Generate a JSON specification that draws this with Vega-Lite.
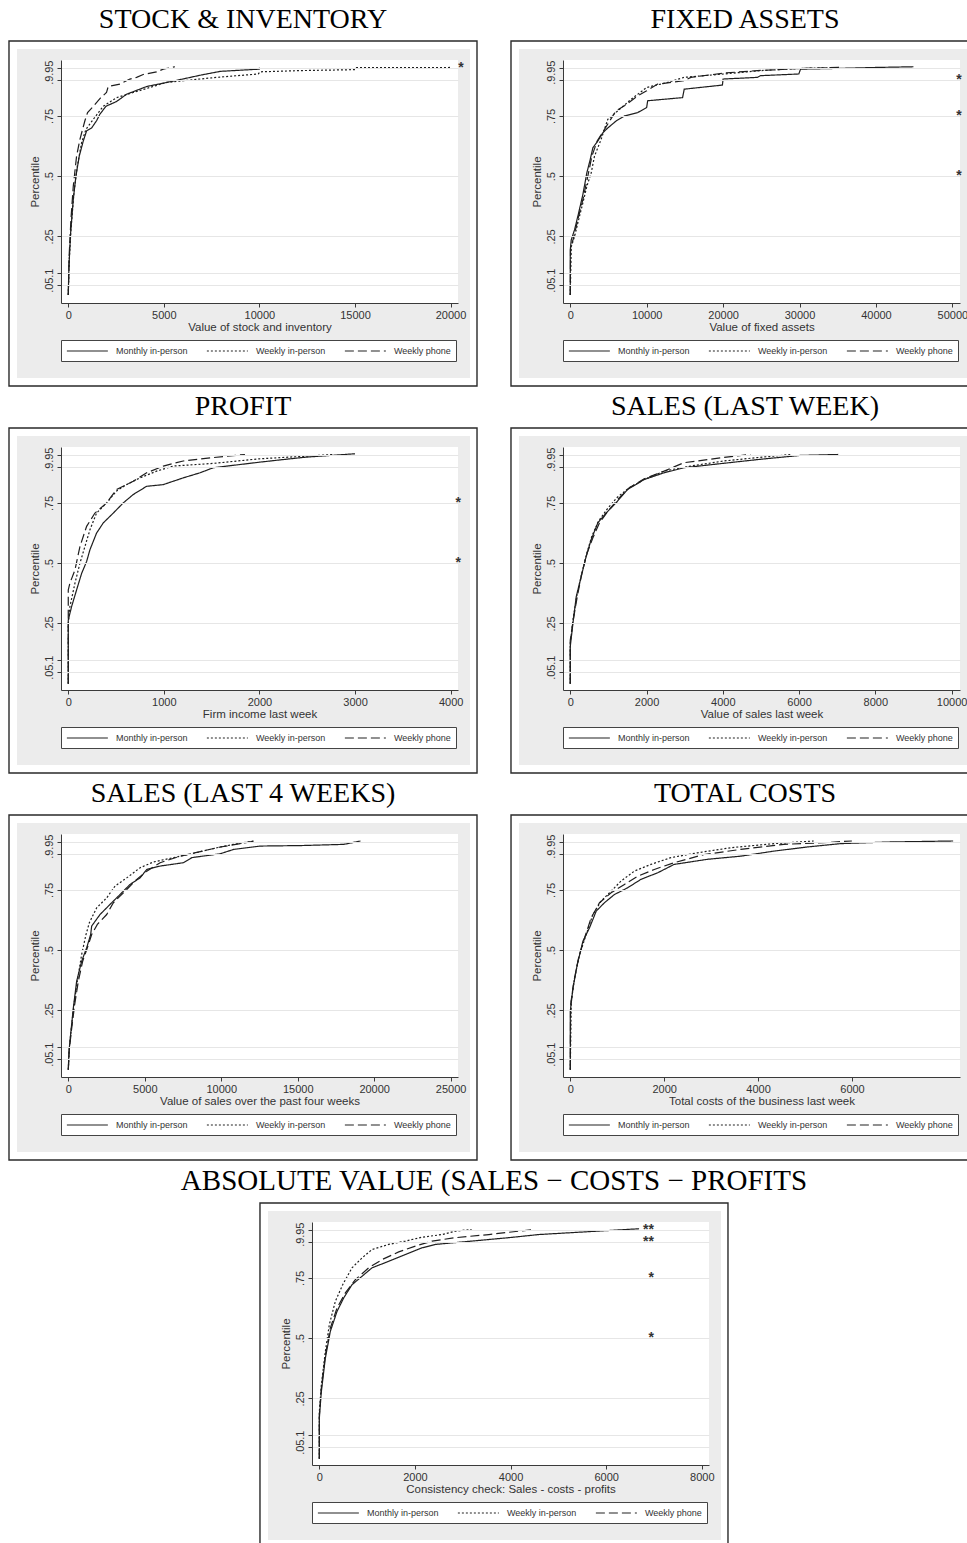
{
  "$schema": "https://vega.github.io/schema/vega-lite/v6.json",
  "background": "white",
  "padding": {"left": 8, "top": 6, "right": 0, "bottom": 0},
  "datasets": {
    "stock": [
      {"survey": "Monthly in-person", "value": 0, "pct": 0.007},
      {"survey": "Monthly in-person", "value": 35, "pct": 0.125},
      {"survey": "Monthly in-person", "value": 122, "pct": 0.264},
      {"survey": "Monthly in-person", "value": 262, "pct": 0.403},
      {"survey": "Monthly in-person", "value": 400, "pct": 0.5},
      {"survey": "Monthly in-person", "value": 575, "pct": 0.583},
      {"survey": "Monthly in-person", "value": 785, "pct": 0.646},
      {"survey": "Monthly in-person", "value": 960, "pct": 0.688},
      {"survey": "Monthly in-person", "value": 1220, "pct": 0.7},
      {"survey": "Monthly in-person", "value": 1480, "pct": 0.73},
      {"survey": "Monthly in-person", "value": 1655, "pct": 0.757},
      {"survey": "Monthly in-person", "value": 1970, "pct": 0.79},
      {"survey": "Monthly in-person", "value": 2530, "pct": 0.81},
      {"survey": "Monthly in-person", "value": 3050, "pct": 0.84},
      {"survey": "Monthly in-person", "value": 4100, "pct": 0.872},
      {"survey": "Monthly in-person", "value": 4970, "pct": 0.886},
      {"survey": "Monthly in-person", "value": 5980, "pct": 0.903},
      {"survey": "Monthly in-person", "value": 6975, "pct": 0.92},
      {"survey": "Monthly in-person", "value": 7970, "pct": 0.935},
      {"survey": "Monthly in-person", "value": 9990, "pct": 0.944},
      {"survey": "Monthly in-person", "value": 10000, "pct": 0.95},
      {"survey": "Weekly in-person", "value": 0, "pct": 0.007},
      {"survey": "Weekly in-person", "value": 52, "pct": 0.153},
      {"survey": "Weekly in-person", "value": 140, "pct": 0.278},
      {"survey": "Weekly in-person", "value": 296, "pct": 0.43},
      {"survey": "Weekly in-person", "value": 470, "pct": 0.54},
      {"survey": "Weekly in-person", "value": 700, "pct": 0.64},
      {"survey": "Weekly in-person", "value": 925, "pct": 0.694},
      {"survey": "Weekly in-person", "value": 1310, "pct": 0.736},
      {"survey": "Weekly in-person", "value": 1830, "pct": 0.79},
      {"survey": "Weekly in-person", "value": 2530, "pct": 0.826},
      {"survey": "Weekly in-person", "value": 3400, "pct": 0.847},
      {"survey": "Weekly in-person", "value": 4270, "pct": 0.868},
      {"survey": "Weekly in-person", "value": 5140, "pct": 0.889},
      {"survey": "Weekly in-person", "value": 6020, "pct": 0.896},
      {"survey": "Weekly in-person", "value": 7760, "pct": 0.91},
      {"survey": "Weekly in-person", "value": 9940, "pct": 0.924},
      {"survey": "Weekly in-person", "value": 10030, "pct": 0.933},
      {"survey": "Weekly in-person", "value": 12120, "pct": 0.938},
      {"survey": "Weekly in-person", "value": 15000, "pct": 0.942},
      {"survey": "Weekly in-person", "value": 15080, "pct": 0.95},
      {"survey": "Weekly in-person", "value": 20000, "pct": 0.951},
      {"survey": "Weekly phone", "value": 0, "pct": 0.007},
      {"survey": "Weekly phone", "value": 52, "pct": 0.18},
      {"survey": "Weekly phone", "value": 140, "pct": 0.32},
      {"survey": "Weekly phone", "value": 262, "pct": 0.458},
      {"survey": "Weekly phone", "value": 435, "pct": 0.583},
      {"survey": "Weekly phone", "value": 610, "pct": 0.653},
      {"survey": "Weekly phone", "value": 870, "pct": 0.73},
      {"survey": "Weekly phone", "value": 1010, "pct": 0.764},
      {"survey": "Weekly phone", "value": 1310, "pct": 0.79},
      {"survey": "Weekly phone", "value": 1655, "pct": 0.822},
      {"survey": "Weekly phone", "value": 2000, "pct": 0.847},
      {"survey": "Weekly phone", "value": 2090, "pct": 0.872},
      {"survey": "Weekly phone", "value": 2700, "pct": 0.882},
      {"survey": "Weekly phone", "value": 3225, "pct": 0.903},
      {"survey": "Weekly phone", "value": 3575, "pct": 0.91},
      {"survey": "Weekly phone", "value": 3920, "pct": 0.922},
      {"survey": "Weekly phone", "value": 4620, "pct": 0.933},
      {"survey": "Weekly phone", "value": 4970, "pct": 0.944},
      {"survey": "Weekly phone", "value": 5580, "pct": 0.954}
    ],
    "assets": [
      {"survey": "Monthly in-person", "value": 0, "pct": 0.007},
      {"survey": "Monthly in-person", "value": 0, "pct": 0.194},
      {"survey": "Monthly in-person", "value": 130, "pct": 0.236},
      {"survey": "Monthly in-person", "value": 565, "pct": 0.278},
      {"survey": "Monthly in-person", "value": 1090, "pct": 0.347},
      {"survey": "Monthly in-person", "value": 1650, "pct": 0.424},
      {"survey": "Monthly in-person", "value": 2170, "pct": 0.514},
      {"survey": "Monthly in-person", "value": 2610, "pct": 0.569},
      {"survey": "Monthly in-person", "value": 2960, "pct": 0.618},
      {"survey": "Monthly in-person", "value": 3610, "pct": 0.646},
      {"survey": "Monthly in-person", "value": 4260, "pct": 0.68},
      {"survey": "Monthly in-person", "value": 4910, "pct": 0.7},
      {"survey": "Monthly in-person", "value": 6000, "pct": 0.729},
      {"survey": "Monthly in-person", "value": 7090, "pct": 0.75},
      {"survey": "Monthly in-person", "value": 8830, "pct": 0.764},
      {"survey": "Monthly in-person", "value": 10000, "pct": 0.785},
      {"survey": "Monthly in-person", "value": 10130, "pct": 0.813},
      {"survey": "Monthly in-person", "value": 14700, "pct": 0.826},
      {"survey": "Monthly in-person", "value": 14910, "pct": 0.861},
      {"survey": "Monthly in-person", "value": 19910, "pct": 0.878},
      {"survey": "Monthly in-person", "value": 20000, "pct": 0.903},
      {"survey": "Monthly in-person", "value": 24480, "pct": 0.91},
      {"survey": "Monthly in-person", "value": 24910, "pct": 0.917},
      {"survey": "Monthly in-person", "value": 29910, "pct": 0.924},
      {"survey": "Monthly in-person", "value": 30130, "pct": 0.944},
      {"survey": "Monthly in-person", "value": 34910, "pct": 0.947},
      {"survey": "Monthly in-person", "value": 39910, "pct": 0.951},
      {"survey": "Monthly in-person", "value": 44910, "pct": 0.954},
      {"survey": "Weekly in-person", "value": 0, "pct": 0.007},
      {"survey": "Weekly in-person", "value": 130, "pct": 0.208},
      {"survey": "Weekly in-person", "value": 565, "pct": 0.25},
      {"survey": "Weekly in-person", "value": 1090, "pct": 0.319},
      {"survey": "Weekly in-person", "value": 1650, "pct": 0.389},
      {"survey": "Weekly in-person", "value": 2170, "pct": 0.458},
      {"survey": "Weekly in-person", "value": 2740, "pct": 0.514},
      {"survey": "Weekly in-person", "value": 3170, "pct": 0.583},
      {"survey": "Weekly in-person", "value": 4040, "pct": 0.653},
      {"survey": "Weekly in-person", "value": 4910, "pct": 0.736},
      {"survey": "Weekly in-person", "value": 6220, "pct": 0.771},
      {"survey": "Weekly in-person", "value": 7960, "pct": 0.819},
      {"survey": "Weekly in-person", "value": 10000, "pct": 0.868},
      {"survey": "Weekly in-person", "value": 12740, "pct": 0.889},
      {"survey": "Weekly in-person", "value": 14910, "pct": 0.91},
      {"survey": "Weekly in-person", "value": 20130, "pct": 0.924},
      {"survey": "Weekly in-person", "value": 24910, "pct": 0.938},
      {"survey": "Weekly in-person", "value": 30130, "pct": 0.947},
      {"survey": "Weekly in-person", "value": 35130, "pct": 0.951},
      {"survey": "Weekly phone", "value": 0, "pct": 0.007},
      {"survey": "Weekly phone", "value": 40, "pct": 0.201},
      {"survey": "Weekly phone", "value": 480, "pct": 0.25},
      {"survey": "Weekly phone", "value": 1090, "pct": 0.333},
      {"survey": "Weekly phone", "value": 1650, "pct": 0.403},
      {"survey": "Weekly phone", "value": 2300, "pct": 0.5},
      {"survey": "Weekly phone", "value": 2830, "pct": 0.583},
      {"survey": "Weekly phone", "value": 3520, "pct": 0.646},
      {"survey": "Weekly phone", "value": 4480, "pct": 0.694},
      {"survey": "Weekly phone", "value": 5570, "pct": 0.75},
      {"survey": "Weekly phone", "value": 6000, "pct": 0.771},
      {"survey": "Weekly phone", "value": 7090, "pct": 0.792},
      {"survey": "Weekly phone", "value": 8830, "pct": 0.833},
      {"survey": "Weekly phone", "value": 10000, "pct": 0.854},
      {"survey": "Weekly phone", "value": 11430, "pct": 0.882},
      {"survey": "Weekly phone", "value": 14910, "pct": 0.896},
      {"survey": "Weekly phone", "value": 15780, "pct": 0.91},
      {"survey": "Weekly phone", "value": 20130, "pct": 0.928},
      {"survey": "Weekly phone", "value": 24480, "pct": 0.938},
      {"survey": "Weekly phone", "value": 30130, "pct": 0.947},
      {"survey": "Weekly phone", "value": 35130, "pct": 0.951}
    ],
    "profit": [
      {"survey": "Monthly in-person", "value": 0, "pct": 0.0},
      {"survey": "Monthly in-person", "value": 0, "pct": 0.264},
      {"survey": "Monthly in-person", "value": 35, "pct": 0.32},
      {"survey": "Monthly in-person", "value": 87, "pct": 0.389},
      {"survey": "Monthly in-person", "value": 140, "pct": 0.458},
      {"survey": "Monthly in-person", "value": 192, "pct": 0.507},
      {"survey": "Monthly in-person", "value": 227, "pct": 0.556},
      {"survey": "Monthly in-person", "value": 296, "pct": 0.625},
      {"survey": "Monthly in-person", "value": 366, "pct": 0.667},
      {"survey": "Monthly in-person", "value": 471, "pct": 0.708},
      {"survey": "Monthly in-person", "value": 575, "pct": 0.75},
      {"survey": "Monthly in-person", "value": 680, "pct": 0.785},
      {"survey": "Monthly in-person", "value": 820, "pct": 0.819},
      {"survey": "Monthly in-person", "value": 994, "pct": 0.826},
      {"survey": "Monthly in-person", "value": 1203, "pct": 0.854},
      {"survey": "Monthly in-person", "value": 1378, "pct": 0.875},
      {"survey": "Monthly in-person", "value": 1517, "pct": 0.896},
      {"survey": "Monthly in-person", "value": 1726, "pct": 0.906},
      {"survey": "Monthly in-person", "value": 2000, "pct": 0.919},
      {"survey": "Monthly in-person", "value": 2250, "pct": 0.93},
      {"survey": "Monthly in-person", "value": 2490, "pct": 0.94},
      {"survey": "Monthly in-person", "value": 3000, "pct": 0.954},
      {"survey": "Weekly in-person", "value": 0, "pct": 0.0},
      {"survey": "Weekly in-person", "value": 0, "pct": 0.25},
      {"survey": "Weekly in-person", "value": 17, "pct": 0.32},
      {"survey": "Weekly in-person", "value": 70, "pct": 0.417},
      {"survey": "Weekly in-person", "value": 122, "pct": 0.5},
      {"survey": "Weekly in-person", "value": 174, "pct": 0.569},
      {"survey": "Weekly in-person", "value": 227, "pct": 0.639},
      {"survey": "Weekly in-person", "value": 296, "pct": 0.708},
      {"survey": "Weekly in-person", "value": 401, "pct": 0.75},
      {"survey": "Weekly in-person", "value": 506, "pct": 0.8},
      {"survey": "Weekly in-person", "value": 610, "pct": 0.826},
      {"survey": "Weekly in-person", "value": 750, "pct": 0.854},
      {"survey": "Weekly in-person", "value": 924, "pct": 0.882},
      {"survey": "Weekly in-person", "value": 1098, "pct": 0.903},
      {"survey": "Weekly in-person", "value": 1517, "pct": 0.914},
      {"survey": "Weekly in-person", "value": 2000, "pct": 0.933},
      {"survey": "Weekly in-person", "value": 2490, "pct": 0.944},
      {"survey": "Weekly in-person", "value": 2772, "pct": 0.951},
      {"survey": "Weekly phone", "value": 0, "pct": 0.0},
      {"survey": "Weekly phone", "value": 0, "pct": 0.389},
      {"survey": "Weekly phone", "value": 17, "pct": 0.417},
      {"survey": "Weekly phone", "value": 70, "pct": 0.472},
      {"survey": "Weekly phone", "value": 122, "pct": 0.569},
      {"survey": "Weekly phone", "value": 192, "pct": 0.653},
      {"survey": "Weekly phone", "value": 279, "pct": 0.708},
      {"survey": "Weekly phone", "value": 401, "pct": 0.75},
      {"survey": "Weekly phone", "value": 506, "pct": 0.806},
      {"survey": "Weekly phone", "value": 680, "pct": 0.84},
      {"survey": "Weekly phone", "value": 820, "pct": 0.875},
      {"survey": "Weekly phone", "value": 994, "pct": 0.903},
      {"survey": "Weekly phone", "value": 1203, "pct": 0.924},
      {"survey": "Weekly phone", "value": 1517, "pct": 0.938},
      {"survey": "Weekly phone", "value": 1848, "pct": 0.951}
    ],
    "sales_week": [
      {"survey": "Monthly in-person", "value": 0, "pct": 0.0},
      {"survey": "Monthly in-person", "value": 0, "pct": 0.153},
      {"survey": "Monthly in-person", "value": 70, "pct": 0.25},
      {"survey": "Monthly in-person", "value": 157, "pct": 0.361},
      {"survey": "Monthly in-person", "value": 287, "pct": 0.444},
      {"survey": "Monthly in-person", "value": 417, "pct": 0.528},
      {"survey": "Monthly in-person", "value": 548, "pct": 0.597},
      {"survey": "Monthly in-person", "value": 722, "pct": 0.667},
      {"survey": "Monthly in-person", "value": 939, "pct": 0.708},
      {"survey": "Monthly in-person", "value": 1200, "pct": 0.75},
      {"survey": "Monthly in-person", "value": 1504, "pct": 0.806},
      {"survey": "Monthly in-person", "value": 1939, "pct": 0.847},
      {"survey": "Monthly in-person", "value": 2461, "pct": 0.875},
      {"survey": "Monthly in-person", "value": 2983, "pct": 0.896},
      {"survey": "Monthly in-person", "value": 4000, "pct": 0.914},
      {"survey": "Monthly in-person", "value": 4983, "pct": 0.931},
      {"survey": "Monthly in-person", "value": 6026, "pct": 0.947},
      {"survey": "Monthly in-person", "value": 7026, "pct": 0.951},
      {"survey": "Weekly in-person", "value": 0, "pct": 0.0},
      {"survey": "Weekly in-person", "value": 0, "pct": 0.167},
      {"survey": "Weekly in-person", "value": 70, "pct": 0.264},
      {"survey": "Weekly in-person", "value": 183, "pct": 0.375},
      {"survey": "Weekly in-person", "value": 304, "pct": 0.458},
      {"survey": "Weekly in-person", "value": 435, "pct": 0.542},
      {"survey": "Weekly in-person", "value": 565, "pct": 0.611},
      {"survey": "Weekly in-person", "value": 739, "pct": 0.674},
      {"survey": "Weekly in-person", "value": 957, "pct": 0.722},
      {"survey": "Weekly in-person", "value": 1217, "pct": 0.771},
      {"survey": "Weekly in-person", "value": 1548, "pct": 0.813},
      {"survey": "Weekly in-person", "value": 1939, "pct": 0.847},
      {"survey": "Weekly in-person", "value": 2461, "pct": 0.882},
      {"survey": "Weekly in-person", "value": 3157, "pct": 0.903},
      {"survey": "Weekly in-person", "value": 4026, "pct": 0.924},
      {"survey": "Weekly in-person", "value": 4896, "pct": 0.938},
      {"survey": "Weekly in-person", "value": 5809, "pct": 0.951},
      {"survey": "Weekly phone", "value": 0, "pct": 0.0},
      {"survey": "Weekly phone", "value": 0, "pct": 0.18},
      {"survey": "Weekly phone", "value": 78, "pct": 0.264},
      {"survey": "Weekly phone", "value": 183, "pct": 0.361},
      {"survey": "Weekly phone", "value": 304, "pct": 0.458},
      {"survey": "Weekly phone", "value": 443, "pct": 0.542},
      {"survey": "Weekly phone", "value": 591, "pct": 0.604},
      {"survey": "Weekly phone", "value": 765, "pct": 0.667},
      {"survey": "Weekly phone", "value": 983, "pct": 0.715},
      {"survey": "Weekly phone", "value": 1243, "pct": 0.764},
      {"survey": "Weekly phone", "value": 1548, "pct": 0.813},
      {"survey": "Weekly phone", "value": 1939, "pct": 0.85},
      {"survey": "Weekly phone", "value": 2461, "pct": 0.882},
      {"survey": "Weekly phone", "value": 2983, "pct": 0.917},
      {"survey": "Weekly phone", "value": 4000, "pct": 0.938},
      {"survey": "Weekly phone", "value": 4722, "pct": 0.951}
    ],
    "sales_month": [
      {"survey": "Monthly in-person", "value": 0, "pct": 0.004},
      {"survey": "Monthly in-person", "value": 44, "pct": 0.08},
      {"survey": "Monthly in-person", "value": 153, "pct": 0.15},
      {"survey": "Monthly in-person", "value": 328, "pct": 0.26},
      {"survey": "Monthly in-person", "value": 546, "pct": 0.371},
      {"survey": "Monthly in-person", "value": 873, "pct": 0.454},
      {"survey": "Monthly in-person", "value": 1201, "pct": 0.51},
      {"survey": "Monthly in-person", "value": 1463, "pct": 0.565},
      {"survey": "Monthly in-person", "value": 1528, "pct": 0.6},
      {"survey": "Monthly in-person", "value": 2074, "pct": 0.648},
      {"survey": "Monthly in-person", "value": 2729, "pct": 0.69},
      {"survey": "Monthly in-person", "value": 3384, "pct": 0.731},
      {"survey": "Monthly in-person", "value": 4039, "pct": 0.773},
      {"survey": "Monthly in-person", "value": 4694, "pct": 0.8},
      {"survey": "Monthly in-person", "value": 5131, "pct": 0.835},
      {"survey": "Monthly in-person", "value": 6004, "pct": 0.849},
      {"survey": "Monthly in-person", "value": 7533, "pct": 0.863},
      {"survey": "Monthly in-person", "value": 8079, "pct": 0.884},
      {"survey": "Monthly in-person", "value": 9934, "pct": 0.9},
      {"survey": "Monthly in-person", "value": 10808, "pct": 0.918},
      {"survey": "Monthly in-person", "value": 12555, "pct": 0.932},
      {"survey": "Monthly in-person", "value": 15175, "pct": 0.934},
      {"survey": "Monthly in-person", "value": 18013, "pct": 0.939},
      {"survey": "Monthly in-person", "value": 19105, "pct": 0.953},
      {"survey": "Weekly in-person", "value": 0, "pct": 0.004},
      {"survey": "Weekly in-person", "value": 66, "pct": 0.094},
      {"survey": "Weekly in-person", "value": 197, "pct": 0.177},
      {"survey": "Weekly in-person", "value": 371, "pct": 0.274},
      {"survey": "Weekly in-person", "value": 590, "pct": 0.371},
      {"survey": "Weekly in-person", "value": 873, "pct": 0.482},
      {"survey": "Weekly in-person", "value": 1157, "pct": 0.565},
      {"survey": "Weekly in-person", "value": 1376, "pct": 0.614},
      {"survey": "Weekly in-person", "value": 1856, "pct": 0.676},
      {"survey": "Weekly in-person", "value": 2511, "pct": 0.717},
      {"survey": "Weekly in-person", "value": 3057, "pct": 0.766},
      {"survey": "Weekly in-person", "value": 3821, "pct": 0.8},
      {"survey": "Weekly in-person", "value": 4694, "pct": 0.842},
      {"survey": "Weekly in-person", "value": 5568, "pct": 0.866},
      {"survey": "Weekly in-person", "value": 6878, "pct": 0.884},
      {"survey": "Weekly in-person", "value": 8188, "pct": 0.902},
      {"survey": "Weekly in-person", "value": 9716, "pct": 0.925},
      {"survey": "Weekly in-person", "value": 10808, "pct": 0.939},
      {"survey": "Weekly in-person", "value": 12118, "pct": 0.953},
      {"survey": "Weekly phone", "value": 0, "pct": 0.004},
      {"survey": "Weekly phone", "value": 66, "pct": 0.087},
      {"survey": "Weekly phone", "value": 197, "pct": 0.163},
      {"survey": "Weekly phone", "value": 415, "pct": 0.274},
      {"survey": "Weekly phone", "value": 655, "pct": 0.371},
      {"survey": "Weekly phone", "value": 939, "pct": 0.454},
      {"survey": "Weekly phone", "value": 1245, "pct": 0.51},
      {"survey": "Weekly phone", "value": 1528, "pct": 0.565},
      {"survey": "Weekly phone", "value": 1900, "pct": 0.607},
      {"survey": "Weekly phone", "value": 2511, "pct": 0.648},
      {"survey": "Weekly phone", "value": 2948, "pct": 0.697},
      {"survey": "Weekly phone", "value": 3603, "pct": 0.738},
      {"survey": "Weekly phone", "value": 4476, "pct": 0.794},
      {"survey": "Weekly phone", "value": 5131, "pct": 0.828},
      {"survey": "Weekly phone", "value": 6004, "pct": 0.863},
      {"survey": "Weekly phone", "value": 7314, "pct": 0.89},
      {"survey": "Weekly phone", "value": 8624, "pct": 0.909},
      {"survey": "Weekly phone", "value": 9934, "pct": 0.928},
      {"survey": "Weekly phone", "value": 11245, "pct": 0.942},
      {"survey": "Weekly phone", "value": 12227, "pct": 0.953}
    ],
    "costs": [
      {"survey": "Monthly in-person", "value": 0, "pct": 0.004},
      {"survey": "Monthly in-person", "value": 0, "pct": 0.246},
      {"survey": "Monthly in-person", "value": 57, "pct": 0.343},
      {"survey": "Monthly in-person", "value": 148, "pct": 0.44},
      {"survey": "Monthly in-person", "value": 269, "pct": 0.537},
      {"survey": "Monthly in-person", "value": 410, "pct": 0.593},
      {"survey": "Monthly in-person", "value": 552, "pct": 0.662},
      {"survey": "Monthly in-person", "value": 728, "pct": 0.697},
      {"survey": "Monthly in-person", "value": 941, "pct": 0.731},
      {"survey": "Monthly in-person", "value": 1223, "pct": 0.759},
      {"survey": "Monthly in-person", "value": 1506, "pct": 0.794},
      {"survey": "Monthly in-person", "value": 1860, "pct": 0.821},
      {"survey": "Monthly in-person", "value": 2213, "pct": 0.856},
      {"survey": "Monthly in-person", "value": 2920, "pct": 0.877},
      {"survey": "Monthly in-person", "value": 3628, "pct": 0.89},
      {"survey": "Monthly in-person", "value": 4335, "pct": 0.911},
      {"survey": "Monthly in-person", "value": 5042, "pct": 0.928},
      {"survey": "Monthly in-person", "value": 5750, "pct": 0.942},
      {"survey": "Monthly in-person", "value": 6810, "pct": 0.949},
      {"survey": "Monthly in-person", "value": 8154, "pct": 0.953},
      {"survey": "Weekly in-person", "value": 0, "pct": 0.004},
      {"survey": "Weekly in-person", "value": 21, "pct": 0.288},
      {"survey": "Weekly in-person", "value": 92, "pct": 0.385},
      {"survey": "Weekly in-person", "value": 198, "pct": 0.482},
      {"survey": "Weekly in-person", "value": 339, "pct": 0.565},
      {"survey": "Weekly in-person", "value": 481, "pct": 0.648},
      {"survey": "Weekly in-person", "value": 658, "pct": 0.704},
      {"survey": "Weekly in-person", "value": 870, "pct": 0.745},
      {"survey": "Weekly in-person", "value": 1082, "pct": 0.787},
      {"survey": "Weekly in-person", "value": 1365, "pct": 0.828},
      {"survey": "Weekly in-person", "value": 1718, "pct": 0.856},
      {"survey": "Weekly in-person", "value": 2143, "pct": 0.884},
      {"survey": "Weekly in-person", "value": 2709, "pct": 0.904},
      {"survey": "Weekly in-person", "value": 3416, "pct": 0.925},
      {"survey": "Weekly in-person", "value": 4335, "pct": 0.942},
      {"survey": "Weekly in-person", "value": 5184, "pct": 0.953},
      {"survey": "Weekly phone", "value": 0, "pct": 0.004},
      {"survey": "Weekly phone", "value": 7, "pct": 0.274},
      {"survey": "Weekly phone", "value": 78, "pct": 0.371},
      {"survey": "Weekly phone", "value": 177, "pct": 0.468},
      {"survey": "Weekly phone", "value": 304, "pct": 0.551},
      {"survey": "Weekly phone", "value": 445, "pct": 0.634},
      {"survey": "Weekly phone", "value": 622, "pct": 0.697},
      {"survey": "Weekly phone", "value": 870, "pct": 0.738},
      {"survey": "Weekly phone", "value": 1153, "pct": 0.773},
      {"survey": "Weekly phone", "value": 1436, "pct": 0.807},
      {"survey": "Weekly phone", "value": 1789, "pct": 0.835},
      {"survey": "Weekly phone", "value": 2213, "pct": 0.863},
      {"survey": "Weekly phone", "value": 2850, "pct": 0.897},
      {"survey": "Weekly phone", "value": 3628, "pct": 0.918},
      {"survey": "Weekly phone", "value": 4547, "pct": 0.939},
      {"survey": "Weekly phone", "value": 5396, "pct": 0.946},
      {"survey": "Weekly phone", "value": 5997, "pct": 0.953}
    ],
    "consistency": [
      {"survey": "Monthly in-person", "value": 0, "pct": 0.0},
      {"survey": "Monthly in-person", "value": 0, "pct": 0.167},
      {"survey": "Monthly in-person", "value": 42, "pct": 0.278},
      {"survey": "Monthly in-person", "value": 126, "pct": 0.417},
      {"survey": "Monthly in-person", "value": 230, "pct": 0.528},
      {"survey": "Monthly in-person", "value": 370, "pct": 0.611},
      {"survey": "Monthly in-person", "value": 510, "pct": 0.667},
      {"survey": "Monthly in-person", "value": 684, "pct": 0.722},
      {"survey": "Monthly in-person", "value": 894, "pct": 0.757},
      {"survey": "Monthly in-person", "value": 1103, "pct": 0.792},
      {"survey": "Monthly in-person", "value": 1452, "pct": 0.819},
      {"survey": "Monthly in-person", "value": 1801, "pct": 0.847},
      {"survey": "Monthly in-person", "value": 2150, "pct": 0.875},
      {"survey": "Monthly in-person", "value": 2429, "pct": 0.889},
      {"survey": "Monthly in-person", "value": 3197, "pct": 0.903},
      {"survey": "Monthly in-person", "value": 3965, "pct": 0.917},
      {"survey": "Monthly in-person", "value": 4593, "pct": 0.93},
      {"survey": "Monthly in-person", "value": 5641, "pct": 0.942},
      {"survey": "Monthly in-person", "value": 6688, "pct": 0.954},
      {"survey": "Weekly in-person", "value": 0, "pct": 0.0},
      {"survey": "Weekly in-person", "value": 0, "pct": 0.194},
      {"survey": "Weekly in-person", "value": 42, "pct": 0.306},
      {"survey": "Weekly in-person", "value": 126, "pct": 0.444},
      {"survey": "Weekly in-person", "value": 209, "pct": 0.556},
      {"survey": "Weekly in-person", "value": 335, "pct": 0.653},
      {"survey": "Weekly in-person", "value": 489, "pct": 0.722},
      {"survey": "Weekly in-person", "value": 684, "pct": 0.792},
      {"survey": "Weekly in-person", "value": 894, "pct": 0.833},
      {"survey": "Weekly in-person", "value": 1103, "pct": 0.868},
      {"survey": "Weekly in-person", "value": 1452, "pct": 0.889},
      {"survey": "Weekly in-person", "value": 1801, "pct": 0.903},
      {"survey": "Weekly in-person", "value": 2150, "pct": 0.919},
      {"survey": "Weekly in-person", "value": 2569, "pct": 0.93},
      {"survey": "Weekly in-person", "value": 2848, "pct": 0.944},
      {"survey": "Weekly in-person", "value": 3183, "pct": 0.951},
      {"survey": "Weekly phone", "value": 0, "pct": 0.0},
      {"survey": "Weekly phone", "value": 0, "pct": 0.18},
      {"survey": "Weekly phone", "value": 42, "pct": 0.292},
      {"survey": "Weekly phone", "value": 126, "pct": 0.43},
      {"survey": "Weekly phone", "value": 230, "pct": 0.542},
      {"survey": "Weekly phone", "value": 370, "pct": 0.625},
      {"survey": "Weekly phone", "value": 545, "pct": 0.688},
      {"survey": "Weekly phone", "value": 754, "pct": 0.743},
      {"survey": "Weekly phone", "value": 1033, "pct": 0.792},
      {"survey": "Weekly phone", "value": 1312, "pct": 0.826},
      {"survey": "Weekly phone", "value": 1661, "pct": 0.858},
      {"survey": "Weekly phone", "value": 2010, "pct": 0.882},
      {"survey": "Weekly phone", "value": 2360, "pct": 0.903},
      {"survey": "Weekly phone", "value": 2848, "pct": 0.917},
      {"survey": "Weekly phone", "value": 3546, "pct": 0.93},
      {"survey": "Weekly phone", "value": 4489, "pct": 0.951}
    ],
    "stock_sig": [{"pct": 0.95, "sig": "*"}],
    "assets_sig": [{"pct": 0.9, "sig": "*"}, {"pct": 0.75, "sig": "*"}, {"pct": 0.5, "sig": "*"}],
    "profit_sig": [{"pct": 0.75, "sig": "*"}, {"pct": 0.5, "sig": "*"}],
    "consistency_sig": [{"pct": 0.95, "sig": "**"}, {"pct": 0.9, "sig": "**"}, {"pct": 0.75, "sig": "*"}, {"pct": 0.5, "sig": "*"}]
  },
  "vconcat": [
    {
      "hconcat": [
        {
          "title": "STOCK & INVENTORY",
          "width": 397, "height": 243,
          "layer": [
            {"data": {"values": [{}]}, "mark": {"type": "rect", "fill": "white", "stroke": "#2a2a2a", "strokeWidth": 1.4},
             "encoding": {"x": {"datum": -3101}, "x2": {"datum": 21384}, "y": {"datum": 1.061}, "y2": {"datum": -0.37}}},
            {"data": {"values": [{}]}, "mark": {"type": "rect", "fill": "#ececec"},
             "encoding": {"x": {"datum": -2682}, "x2": {"datum": 21018}, "y": {"datum": 1.028}, "y2": {"datum": -0.337}}},
            {"data": {"values": [{}]}, "mark": {"type": "rect", "fill": "white"},
             "encoding": {"x": {"datum": -380}, "x2": {"datum": 20390}, "y": {"datum": 0.982}, "y2": {"datum": -0.026}}},
            {"data": {"name": "stock"}, "mark": {"type": "line"},
             "encoding": {
               "x": {"field": "value", "type": "quantitative", "scale": {"domain": [-380, 20390], "nice": false, "zero": false},
                     "axis": {"title": "Value of stock and inventory", "values": [0, 5000, 10000, 15000, 20000], "format": "d", "zindex": 1}},
               "y": {"field": "pct", "type": "quantitative", "scale": {"domain": [-0.026, 0.982], "nice": false, "zero": false},
                     "axis": {"title": "Percentile", "values": [0.05, 0.1, 0.25, 0.5, 0.75, 0.9, 0.95], "tickCount": 20, "labelExpr": "slice(format(datum.value, '.2~f'), 1)", "grid": true, "zindex": 1}},
               "strokeDash": {"field": "survey", "type": "nominal", "legend": {"title": null},
                              "scale": {"domain": ["Monthly in-person", "Weekly in-person", "Weekly phone"], "range": [[1, 0], [2, 2], [9, 4]]}},
               "order": {"field": "pct", "type": "quantitative"}}},
            {"data": {"name": "stock_sig"}, "mark": {"type": "text", "fontSize": 14, "fontWeight": "bold", "align": "center", "baseline": "middle", "color": "#333"},
             "encoding": {"x": {"datum": 20540}, "y": {"field": "pct", "type": "quantitative"}, "text": {"field": "sig"}}}
          ]
        },
        {
          "title": "FIXED ASSETS",
          "width": 397, "height": 243,
          "layer": [
            {"data": {"values": [{}]}, "mark": {"type": "rect", "fill": "white", "stroke": "#2a2a2a", "strokeWidth": 1.4},
             "encoding": {"x": {"datum": -7755}, "x2": {"datum": 53486}, "y": {"datum": 1.061}, "y2": {"datum": -0.37}}},
            {"data": {"values": [{}]}, "mark": {"type": "rect", "fill": "#ececec"},
             "encoding": {"x": {"datum": -6708}, "x2": {"datum": 52570}, "y": {"datum": 1.028}, "y2": {"datum": -0.337}}},
            {"data": {"values": [{}]}, "mark": {"type": "rect", "fill": "white"},
             "encoding": {"x": {"datum": -950}, "x2": {"datum": 51000}, "y": {"datum": 0.982}, "y2": {"datum": -0.026}}},
            {"data": {"name": "assets"}, "mark": {"type": "line"},
             "encoding": {
               "x": {"field": "value", "type": "quantitative", "scale": {"domain": [-950, 51000], "nice": false, "zero": false},
                     "axis": {"title": "Value of fixed assets", "values": [0, 10000, 20000, 30000, 40000, 50000], "format": "d", "zindex": 1}},
               "y": {"field": "pct", "type": "quantitative", "scale": {"domain": [-0.026, 0.982], "nice": false, "zero": false},
                     "axis": {"title": "Percentile", "values": [0.05, 0.1, 0.25, 0.5, 0.75, 0.9, 0.95], "tickCount": 20, "labelExpr": "slice(format(datum.value, '.2~f'), 1)", "grid": true, "zindex": 1}},
               "strokeDash": {"field": "survey", "type": "nominal", "legend": {"title": null},
                              "scale": {"domain": ["Monthly in-person", "Weekly in-person", "Weekly phone"], "range": [[1, 0], [2, 2], [9, 4]]}},
               "order": {"field": "pct", "type": "quantitative"}}},
            {"data": {"name": "assets_sig"}, "mark": {"type": "text", "fontSize": 14, "fontWeight": "bold", "align": "center", "baseline": "middle", "color": "#333"},
             "encoding": {"x": {"datum": 50870}, "y": {"field": "pct", "type": "quantitative"}, "text": {"field": "sig"}}}
          ]
        }
      ],
      "spacing": 32,
      "resolve": {"scale": {"strokeDash": "independent"}, "legend": {"strokeDash": "independent"}}
    },
    {
      "hconcat": [
        {
          "title": "PROFIT",
          "width": 397, "height": 243,
          "layer": [
            {"data": {"values": [{}]}, "mark": {"type": "rect", "fill": "white", "stroke": "#2a2a2a", "strokeWidth": 1.4},
             "encoding": {"x": {"datum": -620}, "x2": {"datum": 4276}, "y": {"datum": 1.061}, "y2": {"datum": -0.37}}},
            {"data": {"values": [{}]}, "mark": {"type": "rect", "fill": "#ececec"},
             "encoding": {"x": {"datum": -536}, "x2": {"datum": 4203}, "y": {"datum": 1.028}, "y2": {"datum": -0.337}}},
            {"data": {"values": [{}]}, "mark": {"type": "rect", "fill": "white"},
             "encoding": {"x": {"datum": -76}, "x2": {"datum": 4077}, "y": {"datum": 0.982}, "y2": {"datum": -0.026}}},
            {"data": {"name": "profit"}, "mark": {"type": "line"},
             "encoding": {
               "x": {"field": "value", "type": "quantitative", "scale": {"domain": [-76, 4077], "nice": false, "zero": false},
                     "axis": {"title": "Firm income last week", "values": [0, 1000, 2000, 3000, 4000], "format": "d", "zindex": 1}},
               "y": {"field": "pct", "type": "quantitative", "scale": {"domain": [-0.026, 0.982], "nice": false, "zero": false},
                     "axis": {"title": "Percentile", "values": [0.05, 0.1, 0.25, 0.5, 0.75, 0.9, 0.95], "tickCount": 20, "labelExpr": "slice(format(datum.value, '.2~f'), 1)", "grid": true, "zindex": 1}},
               "strokeDash": {"field": "survey", "type": "nominal", "legend": {"title": null},
                              "scale": {"domain": ["Monthly in-person", "Weekly in-person", "Weekly phone"], "range": [[1, 0], [2, 2], [9, 4]]}},
               "order": {"field": "pct", "type": "quantitative"}}},
            {"data": {"name": "profit_sig"}, "mark": {"type": "text", "fontSize": 14, "fontWeight": "bold", "align": "center", "baseline": "middle", "color": "#333"},
             "encoding": {"x": {"datum": 4080}, "y": {"field": "pct", "type": "quantitative"}, "text": {"field": "sig"}}}
          ]
        },
        {
          "title": "SALES (LAST WEEK)",
          "width": 397, "height": 243,
          "layer": [
            {"data": {"values": [{}]}, "mark": {"type": "rect", "fill": "white", "stroke": "#2a2a2a", "strokeWidth": 1.4},
             "encoding": {"x": {"datum": -1554}, "x2": {"datum": 10718}, "y": {"datum": 1.061}, "y2": {"datum": -0.37}}},
            {"data": {"values": [{}]}, "mark": {"type": "rect", "fill": "#ececec"},
             "encoding": {"x": {"datum": -1344}, "x2": {"datum": 10535}, "y": {"datum": 1.028}, "y2": {"datum": -0.337}}},
            {"data": {"values": [{}]}, "mark": {"type": "rect", "fill": "white"},
             "encoding": {"x": {"datum": -190}, "x2": {"datum": 10220}, "y": {"datum": 0.982}, "y2": {"datum": -0.026}}},
            {"data": {"name": "sales_week"}, "mark": {"type": "line"},
             "encoding": {
               "x": {"field": "value", "type": "quantitative", "scale": {"domain": [-190, 10220], "nice": false, "zero": false},
                     "axis": {"title": "Value of sales last week", "values": [0, 2000, 4000, 6000, 8000, 10000], "format": "d", "zindex": 1}},
               "y": {"field": "pct", "type": "quantitative", "scale": {"domain": [-0.026, 0.982], "nice": false, "zero": false},
                     "axis": {"title": "Percentile", "values": [0.05, 0.1, 0.25, 0.5, 0.75, 0.9, 0.95], "tickCount": 20, "labelExpr": "slice(format(datum.value, '.2~f'), 1)", "grid": true, "zindex": 1}},
               "strokeDash": {"field": "survey", "type": "nominal", "legend": {"title": null},
                              "scale": {"domain": ["Monthly in-person", "Weekly in-person", "Weekly phone"], "range": [[1, 0], [2, 2], [9, 4]]}},
               "order": {"field": "pct", "type": "quantitative"}}}
          ]
        }
      ],
      "spacing": 32,
      "resolve": {"scale": {"strokeDash": "independent"}, "legend": {"strokeDash": "independent"}}
    },
    {
      "hconcat": [
        {
          "title": "SALES (LAST 4 WEEKS)",
          "width": 397, "height": 243,
          "layer": [
            {"data": {"values": [{}]}, "mark": {"type": "rect", "fill": "white", "stroke": "#2a2a2a", "strokeWidth": 1.4},
             "encoding": {"x": {"datum": -3877}, "x2": {"datum": 26722}, "y": {"datum": 1.061}, "y2": {"datum": -0.37}}},
            {"data": {"values": [{}]}, "mark": {"type": "rect", "fill": "#ececec"},
             "encoding": {"x": {"datum": -3354}, "x2": {"datum": 26265}, "y": {"datum": 1.028}, "y2": {"datum": -0.337}}},
            {"data": {"values": [{}]}, "mark": {"type": "rect", "fill": "white"},
             "encoding": {"x": {"datum": -477}, "x2": {"datum": 25480}, "y": {"datum": 0.982}, "y2": {"datum": -0.026}}},
            {"data": {"name": "sales_month"}, "mark": {"type": "line"},
             "encoding": {
               "x": {"field": "value", "type": "quantitative", "scale": {"domain": [-477, 25480], "nice": false, "zero": false},
                     "axis": {"title": "Value of sales over the past four weeks", "values": [0, 5000, 10000, 15000, 20000, 25000], "format": "d", "zindex": 1}},
               "y": {"field": "pct", "type": "quantitative", "scale": {"domain": [-0.026, 0.982], "nice": false, "zero": false},
                     "axis": {"title": "Percentile", "values": [0.05, 0.1, 0.25, 0.5, 0.75, 0.9, 0.95], "tickCount": 20, "labelExpr": "slice(format(datum.value, '.2~f'), 1)", "grid": true, "zindex": 1}},
               "strokeDash": {"field": "survey", "type": "nominal", "legend": {"title": null},
                              "scale": {"domain": ["Monthly in-person", "Weekly in-person", "Weekly phone"], "range": [[1, 0], [2, 2], [9, 4]]}},
               "order": {"field": "pct", "type": "quantitative"}}}
          ]
        },
        {
          "title": "TOTAL COSTS",
          "width": 397, "height": 243,
          "layer": [
            {"data": {"values": [{}]}, "mark": {"type": "rect", "fill": "white", "stroke": "#2a2a2a", "strokeWidth": 1.4},
             "encoding": {"x": {"datum": -1262}, "x2": {"datum": 8705}, "y": {"datum": 1.061}, "y2": {"datum": -0.37}}},
            {"data": {"values": [{}]}, "mark": {"type": "rect", "fill": "#ececec"},
             "encoding": {"x": {"datum": -1092}, "x2": {"datum": 8556}, "y": {"datum": 1.028}, "y2": {"datum": -0.337}}},
            {"data": {"values": [{}]}, "mark": {"type": "rect", "fill": "white"},
             "encoding": {"x": {"datum": -155}, "x2": {"datum": 8300}, "y": {"datum": 0.982}, "y2": {"datum": -0.026}}},
            {"data": {"name": "costs"}, "mark": {"type": "line"},
             "encoding": {
               "x": {"field": "value", "type": "quantitative", "scale": {"domain": [-155, 8300], "nice": false, "zero": false},
                     "axis": {"title": "Total costs of the business last week", "values": [0, 2000, 4000, 6000], "format": "d", "zindex": 1}},
               "y": {"field": "pct", "type": "quantitative", "scale": {"domain": [-0.026, 0.982], "nice": false, "zero": false},
                     "axis": {"title": "Percentile", "values": [0.05, 0.1, 0.25, 0.5, 0.75, 0.9, 0.95], "tickCount": 20, "labelExpr": "slice(format(datum.value, '.2~f'), 1)", "grid": true, "zindex": 1}},
               "strokeDash": {"field": "survey", "type": "nominal", "legend": {"title": null},
                              "scale": {"domain": ["Monthly in-person", "Weekly in-person", "Weekly phone"], "range": [[1, 0], [2, 2], [9, 4]]}},
               "order": {"field": "pct", "type": "quantitative"}}}
          ]
        }
      ],
      "spacing": 32,
      "resolve": {"scale": {"strokeDash": "independent"}, "legend": {"strokeDash": "independent"}}
    },
    {
      "hconcat": [
        {
          "width": 119, "height": 1,
          "data": {"values": [{}]},
          "mark": {"type": "point", "opacity": 0}
        },
        {
          "title": {"text": "ABSOLUTE VALUE (SALES − COSTS − PROFITS", "fontSize": 29},
          "width": 397, "height": 243,
          "layer": [
            {"data": {"values": [{}]}, "mark": {"type": "rect", "fill": "white", "stroke": "#2a2a2a", "strokeWidth": 1.4},
             "encoding": {"x": {"datum": -1241}, "x2": {"datum": 8547}, "y": {"datum": 1.061}, "y2": {"datum": -0.37}}},
            {"data": {"values": [{}]}, "mark": {"type": "rect", "fill": "#ececec"},
             "encoding": {"x": {"datum": -1073}, "x2": {"datum": 8401}, "y": {"datum": 1.028}, "y2": {"datum": -0.337}}},
            {"data": {"values": [{}]}, "mark": {"type": "rect", "fill": "white"},
             "encoding": {"x": {"datum": -153}, "x2": {"datum": 8150}, "y": {"datum": 0.982}, "y2": {"datum": -0.026}}},
            {"data": {"name": "consistency"}, "mark": {"type": "line"},
             "encoding": {
               "x": {"field": "value", "type": "quantitative", "scale": {"domain": [-153, 8150], "nice": false, "zero": false},
                     "axis": {"title": "Consistency check: Sales - costs - profits", "values": [0, 2000, 4000, 6000, 8000], "format": "d", "zindex": 1}},
               "y": {"field": "pct", "type": "quantitative", "scale": {"domain": [-0.026, 0.982], "nice": false, "zero": false},
                     "axis": {"title": "Percentile", "values": [0.05, 0.1, 0.25, 0.5, 0.75, 0.9, 0.95], "tickCount": 20, "labelExpr": "slice(format(datum.value, '.2~f'), 1)", "grid": true, "zindex": 1}},
               "strokeDash": {"field": "survey", "type": "nominal", "legend": {"title": null},
                              "scale": {"domain": ["Monthly in-person", "Weekly in-person", "Weekly phone"], "range": [[1, 0], [2, 2], [9, 4]]}},
               "order": {"field": "pct", "type": "quantitative"}}},
            {"data": {"name": "consistency_sig"}, "mark": {"type": "text", "fontSize": 14, "fontWeight": "bold", "align": "right", "baseline": "middle", "color": "#333"},
             "encoding": {"x": {"datum": 7000}, "y": {"field": "pct", "type": "quantitative"}, "text": {"field": "sig"}}}
          ]
        }
      ],
      "spacing": 0,
      "resolve": {"scale": {"strokeDash": "independent"}, "legend": {"strokeDash": "independent"}}
    }
  ],
  "spacing": 6,
  "resolve": {"scale": {"strokeDash": "independent"}, "legend": {"strokeDash": "independent"}},
  "config": {
    "view": {"stroke": null},
    "font": "Liberation Sans",
    "title": {"font": "Liberation Serif", "fontSize": 28, "fontWeight": "normal", "color": "#000000", "anchor": "middle", "frame": "bounds", "offset": 6},
    "line": {"color": "#1e1e1e", "strokeWidth": 1.2},
    "axis": {
      "labelFont": "Liberation Sans", "titleFont": "Liberation Sans",
      "labelFontSize": 11, "titleFontSize": 11.5, "titleFontWeight": "normal",
      "labelColor": "#333333", "titleColor": "#333333",
      "domainColor": "#3a3a3a", "tickColor": "#3a3a3a", "tickSize": 4,
      "labelFlush": false, "labelOverlap": false
    },
    "axisX": {"grid": false, "labelPadding": 2, "titlePadding": 1},
    "axisY": {"gridColor": "#e6e6e6", "labelAngle": -90, "labelPadding": 3, "titlePadding": 3},
    "legend": {
      "orient": "bottom", "direction": "horizontal", "columns": 3, "columnPadding": 16,
      "padding": 5, "fillColor": "white", "strokeColor": "#444444",
      "symbolType": "M-1,0H7", "symbolSize": 105, "symbolStrokeWidth": 1, "symbolStrokeColor": "#222222",
      "labelFont": "Liberation Sans", "labelFontSize": 9, "labelColor": "#333333", "labelOffset": 38, "offset": 7
    }
  }
}
